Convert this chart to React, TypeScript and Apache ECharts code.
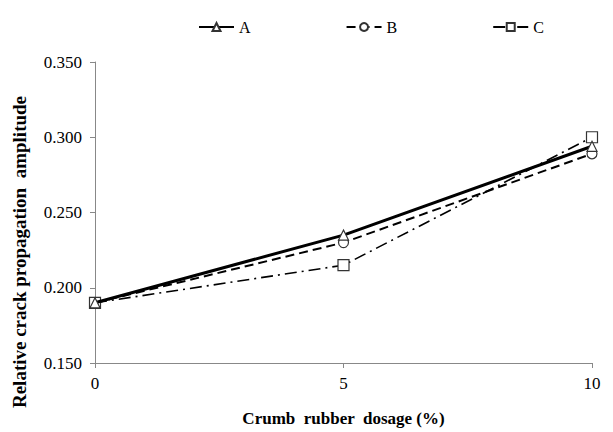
import React, { useEffect, useRef } from "react";
import * as echarts from "echarts";

const xValues = [0, 5, 10];
const seriesA = [0.19, 0.235, 0.294];
const seriesB = [0.19, 0.23, 0.289];
const seriesC = [0.19, 0.215, 0.3];
const names = ["A", "B", "C"];
const yTitle = "Relative crack propagation  amplitude";
const xTitle = "Crumb  rubber  dosage (%)";

export default function App() {
  const ref = useRef<HTMLDivElement>(null);
  useEffect(() => {
    const chart = echarts.init(ref.current!, null, { renderer: "svg" });
    const font = "Liberation Serif";
    const mk = (name: string, data: number[], symbol: string, width: number, type: any) => ({
      name,
      type: "line",
      data: xValues.map((x, i) => [x, data[i]]),
      symbol,
      symbolSize: symbol === "rect" ? 11 : 10,
      showSymbol: true,
      lineStyle: { color: "#000", width, type },
      itemStyle: { color: "#fff", borderColor: "#333", borderWidth: 1.2 },
      z: name === "A" ? 3 : 2,
    });
    chart.setOption({
      animation: false,
      backgroundColor: "#fff",
      textStyle: { fontFamily: font },
      legend: {
        top: 14,
        left: 193,
        itemGap: 95,
        itemWidth: 35,
        itemHeight: 10,
        textStyle: { fontFamily: font, fontSize: 16, color: "#000" },
        data: names,
      },
      grid: { left: 95, right: 21, top: 62, bottom: 49 },
      graphic: [
        {
          type: "text",
          x: 19,
          y: 252,
          rotation: Math.PI / 2,
          style: {
            text: yTitle,
            fontFamily: font,
            fontSize: 19,
            fontWeight: "bold",
            fill: "#000",
            align: "center",
            verticalAlign: "middle",
          },
        },
      ],
      xAxis: {
        type: "value",
        min: 0,
        max: 10,
        interval: 5,
        name: xTitle,
        nameLocation: "middle",
        nameGap: 47,
        nameTextStyle: { fontFamily: font, fontSize: 17, fontWeight: "bold", color: "#000" },
        axisLine: { lineStyle: { color: "#888" } },
        axisTick: { show: true, length: 5, lineStyle: { color: "#888" } },
        axisLabel: { fontFamily: font, fontSize: 17, color: "#000", margin: 12 },
        splitLine: { show: false },
      },
      yAxis: {
        type: "value",
        min: 0.15,
        max: 0.35,
        interval: 0.05,
        axisLine: { show: true, lineStyle: { color: "#888" } },
        axisTick: { show: true, length: 5, lineStyle: { color: "#888" } },
        axisLabel: {
          fontFamily: font,
          fontSize: 17,
          color: "#000",
          margin: 13,
          formatter: (v: number) => v.toFixed(3),
        },
        splitLine: { show: false },
      },
      series: [
        mk("A", seriesA, "triangle", 3, "solid"),
        mk("B", seriesB, "circle", 2, [9, 5]),
        mk("C", seriesC, "rect", 1.6, [12, 5, 2, 5]),
      ],
    });
    return () => chart.dispose();
  }, []);
  return (
    <div
      ref={ref}
      style={{ position: "absolute", left: 0, top: 0, width: 613, height: 432 }}
    />
  );
}
